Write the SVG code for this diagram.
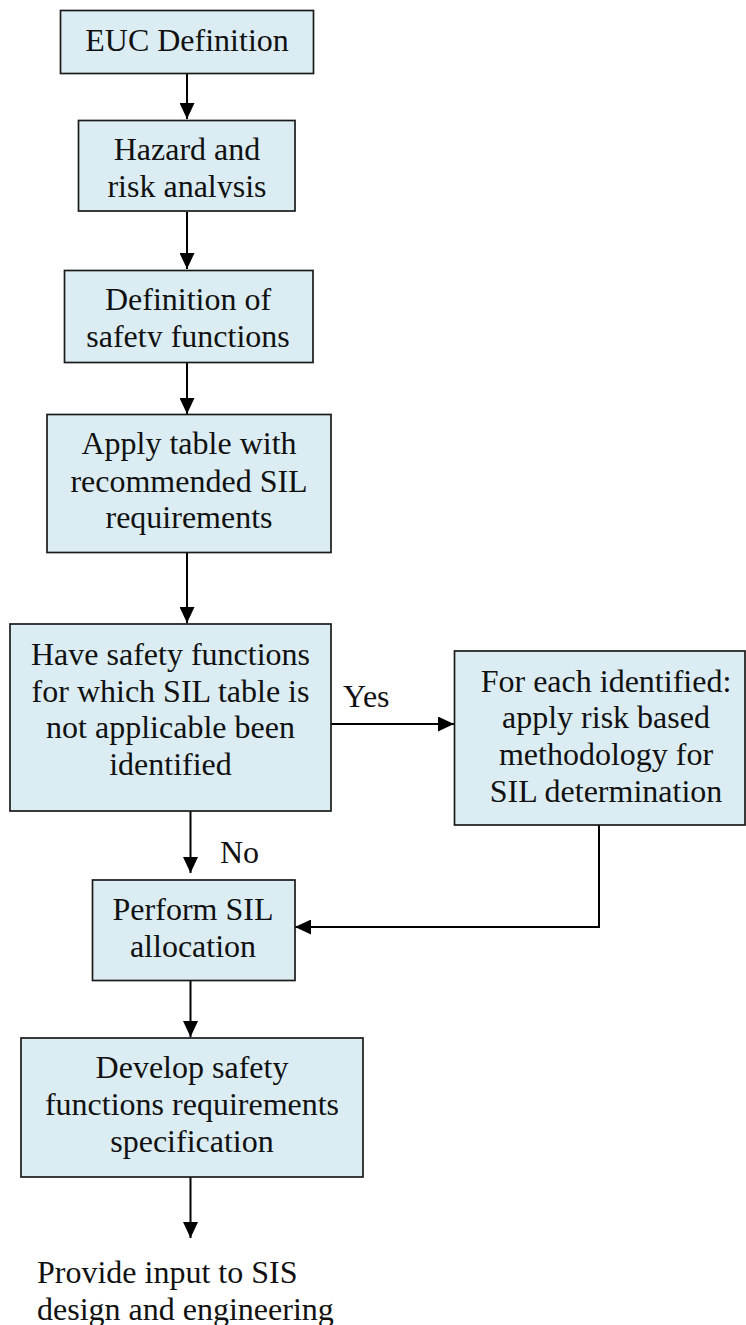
<svg xmlns="http://www.w3.org/2000/svg" width="746" height="1325" viewBox="0 0 746 1325">
<style>
.box{fill:#dbedf3;stroke:#1a1a1a;stroke-width:1.7}
.t{font-family:'Liberation Serif','DejaVu Serif','Times New Roman',Times,serif;font-size:32px;fill:#111;text-anchor:middle}
.l{font-family:'Liberation Serif','DejaVu Serif','Times New Roman',Times,serif;font-size:32px;fill:#111}
.c{fill:none;stroke:#000;stroke-width:2}
</style>
<defs>
<marker id="ah" viewBox="0 0 16 15" refX="16" refY="7.5" markerWidth="16" markerHeight="15" markerUnits="userSpaceOnUse" orient="auto">
<path d="M0,0 L16,7.5 L0,15 Z" fill="#000"/>
</marker>
<clipPath id="clipHaz"><rect x="60" y="120" width="260" height="78"/></clipPath>
<clipPath id="clipDef"><rect x="60" y="270" width="260" height="77"/></clipPath>
</defs>
<rect width="746" height="1325" fill="#fff"/>
<g id="connectors" font-family="Liberation Serif, serif">
<path class="c" d="M187 73 V119" marker-end="url(#ah)"/>
<path class="c" d="M187 212 V269" marker-end="url(#ah)"/>
<path class="c" d="M187 363 V414" marker-end="url(#ah)"/>
<path class="c" d="M187 553 V623" marker-end="url(#ah)"/>
<path class="c" d="M190.5 811 V873" marker-end="url(#ah)"/>
<path class="c" d="M331 724 H454" marker-end="url(#ah)"/>
<path class="c" d="M599 825 V927 H295" marker-end="url(#ah)"/>
<path class="c" d="M190.5 980 V1037" marker-end="url(#ah)"/>
<path class="c" d="M190.5 1177 V1238" marker-end="url(#ah)"/>
<text class="l" x="343" y="707">Yes</text>
<text class="l" x="220" y="863">No</text>
</g>
<g id="euc">
<rect class="box" x="60.5" y="10.5" width="253" height="63"/>
<text class="t" x="187" y="51">EUC Definition</text>
</g>
<g id="hazard">
<rect class="box" x="78.5" y="120.5" width="216.5" height="90.5"/>
<text class="t" x="187" y="160">Hazard and</text>
<text class="t" x="187" y="197" clip-path="url(#clipHaz)">risk analysis</text>
</g>
<g id="definition">
<rect class="box" x="64.5" y="270.5" width="248.5" height="92"/>
<text class="t" x="188" y="310">Definition of</text>
<text class="t" x="188" y="346.5" clip-path="url(#clipDef)">safety functions</text>
</g>
<g id="apply">
<rect class="box" x="47" y="414.5" width="284" height="138"/>
<text class="t" x="189" y="454">Apply table with</text>
<text class="t" x="189" y="491.5">recommended SIL</text>
<text class="t" x="189" y="528">requirements</text>
</g>
<g id="have">
<rect class="box" x="10" y="624" width="321" height="187"/>
<text class="t" x="170.5" y="665">Have safety functions</text>
<text class="t" x="170.5" y="702">for which SIL table is</text>
<text class="t" x="170.5" y="738">not applicable been</text>
<text class="t" x="170.5" y="775">identified</text>
</g>
<g id="foreach">
<rect class="box" x="454.5" y="651" width="290.5" height="174"/>
<text class="t" x="606" y="692">For each identified:</text>
<text class="t" x="606" y="728">apply risk based</text>
<text class="t" x="606" y="765">methodology for</text>
<text class="t" x="606" y="802">SIL determination</text>
</g>
<g id="perform">
<rect class="box" x="92.5" y="880" width="202.5" height="100.5"/>
<text class="t" x="193" y="920">Perform SIL</text>
<text class="t" x="193" y="957">allocation</text>
</g>
<g id="develop">
<rect class="box" x="21" y="1038" width="342" height="139"/>
<text class="t" x="192" y="1078">Develop safety</text>
<text class="t" x="192" y="1115">functions requirements</text>
<text class="t" x="192" y="1152">specification</text>
</g>
<g id="output">
<text class="l" x="37" y="1283">Provide input to SIS</text>
<text class="l" x="37" y="1320">design and engineering</text>
</g>
</svg>
